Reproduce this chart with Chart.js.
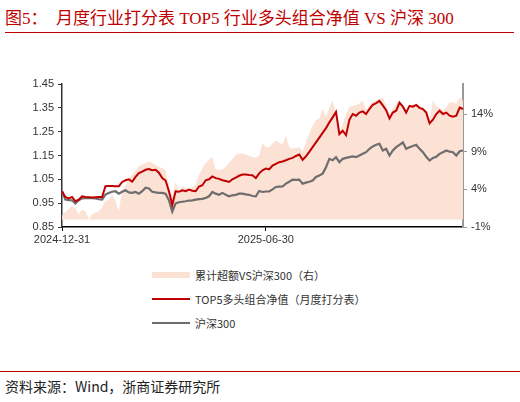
<!DOCTYPE html>
<html>
<head>
<meta charset="utf-8">
<script src="https://cdn.jsdelivr.net/npm/chart.js@4/dist/chart.umd.min.js"></script>
<style>
  body { margin: 0; background: #fff; width: 520px; height: 402px; position: relative; overflow: hidden; }
  #title { position: absolute; left: 5px; top: 4px; font: 17px "Liberation Serif", "Noto Sans CJK SC", serif; color: #c00000; white-space: pre; }
  .rule { position: absolute; height: 1px; background: #c00000; }
  #wrap { position: absolute; left: 0; top: 40px; width: 520px; height: 220px; }
  #legend { position: absolute; left: 152px; top: 263px; font: 11px "Noto Sans CJK SC", sans-serif; color: #333; }
  .item { height: 24px; display: flex; align-items: center; }
  .swatch { width: 38px; margin-right: 5px; }
  #source { position: absolute; left: 5px; top: 376px; font: 14px "Noto Sans CJK SC", sans-serif; color: #222; }
</style>
</head>
<body>
<div id="title">图5：  月度行业打分表 TOP5 行业多头组合净值 VS 沪深 300</div>
<div class="rule" style="left:5px;top:32px;width:509px"></div>
<div id="wrap"><canvas id="mainChart" width="520" height="220"></canvas></div>
<div id="legend"></div>
<div class="rule" style="left:0;top:371px;width:520px"></div>
<div id="source">资料来源：Wind，浙商证券研究所</div>
<script>
// x axis: 121 trading-day points, only two dates are labelled
const xTickLabels = ["2024-12-31", "2025-06-30"]
const xTickIndex = [0, 61]
const leftTicks = [0.85, 0.95, 1.05, 1.15, 1.25, 1.35, 1.45]
const rightTicks = [-1, 4, 9, 14]

const excessLabel = "累计超额VS沪深300（右）"
const top5Label = "TOP5多头组合净值（月度打分表）"
const hs300Label = "沪深300"

const top5Values = [
    1.000, 0.976, 0.970, 0.976, 0.958, 0.965, 0.979, 0.976, 0.975, 0.974,
    0.975, 0.976, 0.976, 1.021, 1.022, 1.022, 1.021, 1.021, 1.039, 1.046,
    1.050, 1.040, 1.060, 1.076, 1.082, 1.090, 1.093, 1.088, 1.090, 1.078,
    1.055, 1.045, 1.000, 0.942, 1.000, 0.998, 1.004, 1.000, 1.007, 1.002,
    1.000, 1.020, 1.025, 1.046, 1.050, 1.062, 1.055, 1.052, 1.046, 1.043,
    1.039, 1.050, 1.057, 1.065, 1.070, 1.070, 1.068, 1.067, 1.055, 1.075,
    1.088, 1.095, 1.092, 1.108, 1.115, 1.122, 1.125, 1.130, 1.136, 1.140,
    1.148, 1.154, 1.132, 1.146, 1.165, 1.185, 1.205, 1.225, 1.245, 1.265,
    1.289, 1.310, 1.333, 1.240, 1.254, 1.235, 1.300, 1.324, 1.317, 1.330,
    1.335, 1.324, 1.345, 1.363, 1.370, 1.379, 1.360, 1.340, 1.305, 1.330,
    1.338, 1.372, 1.355, 1.330, 1.358, 1.355, 1.362, 1.350, 1.345, 1.330,
    1.285, 1.300, 1.324, 1.338, 1.324, 1.330, 1.317, 1.313, 1.317, 1.351,
    1.345
]

const hs300Values = [
    1.000, 0.965, 0.963, 0.962, 0.949, 0.962, 0.970, 0.971, 0.972, 0.971,
    0.970, 0.967, 0.965, 0.986, 0.993, 0.998, 1.000, 0.990, 0.998, 1.004,
    0.995, 0.993, 0.997, 0.990, 1.000, 1.015, 1.012, 0.998, 0.995, 0.993,
    0.993, 0.990, 0.962, 0.914, 0.949, 0.954, 0.956, 0.958, 0.961, 0.962,
    0.965, 0.967, 0.968, 0.972, 0.979, 0.997, 0.990, 0.985, 0.993, 0.985,
    0.979, 0.983, 0.985, 0.990, 0.990, 0.987, 0.985, 0.980, 0.979, 1.001,
    0.997, 0.999, 0.999, 1.008, 1.018, 1.019, 1.020, 1.032, 1.040, 1.049,
    1.048, 1.049, 1.032, 1.036, 1.040, 1.045, 1.060, 1.066, 1.074, 1.101,
    1.136, 1.130, 1.143, 1.122, 1.136, 1.140, 1.143, 1.146, 1.143, 1.150,
    1.157, 1.164, 1.178, 1.188, 1.195, 1.199, 1.171, 1.178, 1.150, 1.171,
    1.185, 1.195, 1.205, 1.178, 1.185, 1.190, 1.195, 1.178, 1.164, 1.145,
    1.129, 1.140, 1.145, 1.157, 1.164, 1.171, 1.166, 1.164, 1.150, 1.168,
    1.171
]

// cumulative excess, percent (right axis)
const excessValues = [
    0.5, 1.0, 1.4, 1.75, 1.5, 0.7, 1.3, 1.1, 0.0, 0.7,
    0.9, 1.1, 1.6, 2.5, 2.6, 3.3, 2.5, 1.1, 3.9, 4.5,
    5.5, 5.9, 6.4, 7.1, 7.3, 7.5, 7.7, 7.5, 7.2, 7.0,
    6.8, 6.6, 4.5, 3.0, 5.0, 3.7, 4.4, 4.2, 4.0, 4.3,
    4.6, 5.9, 6.8, 7.5, 7.9, 8.3, 6.6, 6.6, 6.6, 7.0,
    7.5, 8.0, 8.6, 8.7, 8.8, 8.6, 8.5, 8.3, 8.2, 8.5,
    10.1, 9.6, 9.6, 10.1, 10.5, 10.2, 10.0, 11.2, 9.6, 9.4,
    9.5, 9.6, 9.0, 10.3, 11.4, 12.5, 13.2, 13.4, 14.7, 13.6,
    14.9, 15.8, 14.0, 11.6, 12.7, 14.0, 14.9, 15.1, 15.2, 15.4,
    15.8, 14.5, 15.2, 15.6, 15.8, 16.0, 16.2, 15.1, 14.0, 14.7,
    15.4, 15.8, 14.8, 14.0, 14.5, 15.4, 15.1, 15.0, 14.9, 14.5,
    13.2, 15.8, 15.1, 14.8, 14.5, 14.9, 15.6, 15.5, 15.4, 16.2,
    15.8
]

const colorExcess = "#fbe2d5"
const colorTop5 = "#c00000"
const colorHs300 = "#6e6e6e"
const tickFont = { family: "Liberation Sans", size: 11 }

const dayIndex = top5Values.map((v, i) => i)

const ctx = document.getElementById("mainChart").getContext("2d")
new Chart(ctx, {
    type: "line",
    data: {
        labels: dayIndex,
        datasets: [
            {
                label: excessLabel,
                data: excessValues,
                yAxisID: "yRight",
                fill: "origin",
                backgroundColor: colorExcess,
                borderWidth: 0,
                pointRadius: 0,
                tension: 0,
                order: 3
            },
            {
                label: top5Label,
                data: top5Values,
                yAxisID: "yLeft",
                borderColor: colorTop5,
                borderWidth: 2,
                pointRadius: 0,
                tension: 0,
                fill: false,
                order: 1
            },
            {
                label: hs300Label,
                data: hs300Values,
                yAxisID: "yLeft",
                borderColor: colorHs300,
                borderWidth: 2.2,
                pointRadius: 0,
                tension: 0,
                fill: false,
                order: 2
            }
        ]
    },
    options: {
        responsive: false,
        animation: false,
        layout: { padding: { top: 44, left: 0, right: 0, bottom: 0 } },
        plugins: { legend: { display: false }, tooltip: { enabled: false } },
        scales: {
            x: {
                type: "category",
                offset: false,
                afterBuildTicks: scale => { scale.ticks = xTickIndex.map(i => ({ value: i })) },
                afterFit: scale => { scale.height = 33 },
                ticks: {
                    autoSkip: false,
                    maxRotation: 0,
                    color: "#333",
                    font: tickFont,
                    padding: 2,
                    callback: value => xTickLabels[xTickIndex.indexOf(value)]
                },
                grid: { drawOnChartArea: false, tickLength: 4, color: "#000" },
                border: { color: "#000", width: 1.5 }
            },
            yLeft: {
                position: "left",
                min: 0.85,
                max: 1.45,
                afterBuildTicks: scale => { scale.ticks = leftTicks.map(v => ({ value: v })) },
                afterFit: scale => { scale.width = 62 },
                ticks: { color: "#333", font: tickFont, padding: 4, callback: v => v.toFixed(2) },
                grid: { drawOnChartArea: false, tickLength: 4, color: "#333" },
                border: { color: "#333", width: 1.5 }
            },
            yRight: {
                position: "right",
                min: -1,
                max: 18,
                afterBuildTicks: scale => { scale.ticks = rightTicks.map(v => ({ value: v })) },
                afterFit: scale => { scale.width = 57 },
                ticks: { color: "#333", font: tickFont, padding: 4, callback: v => v + "%" },
                grid: { drawOnChartArea: false, tickLength: 4, color: "#999" },
                border: { color: "#999", width: 2 }
            }
        }
    }
})

// legend built from the same labels / colours
const legendItems = [
    { label: excessLabel, color: colorExcess, height: 6 },
    { label: top5Label, color: colorTop5, height: 2 },
    { label: hs300Label, color: colorHs300, height: 2.5 }
]
const legendBox = document.getElementById("legend")
legendItems.forEach(item => {
    const row = document.createElement("div")
    row.className = "item"
    const sw = document.createElement("span")
    sw.className = "swatch"
    sw.style.height = item.height + "px"
    sw.style.background = item.color
    const txt = document.createElement("span")
    txt.textContent = item.label
    row.appendChild(sw)
    row.appendChild(txt)
    legendBox.appendChild(row)
})
</script>
</body>
</html>
